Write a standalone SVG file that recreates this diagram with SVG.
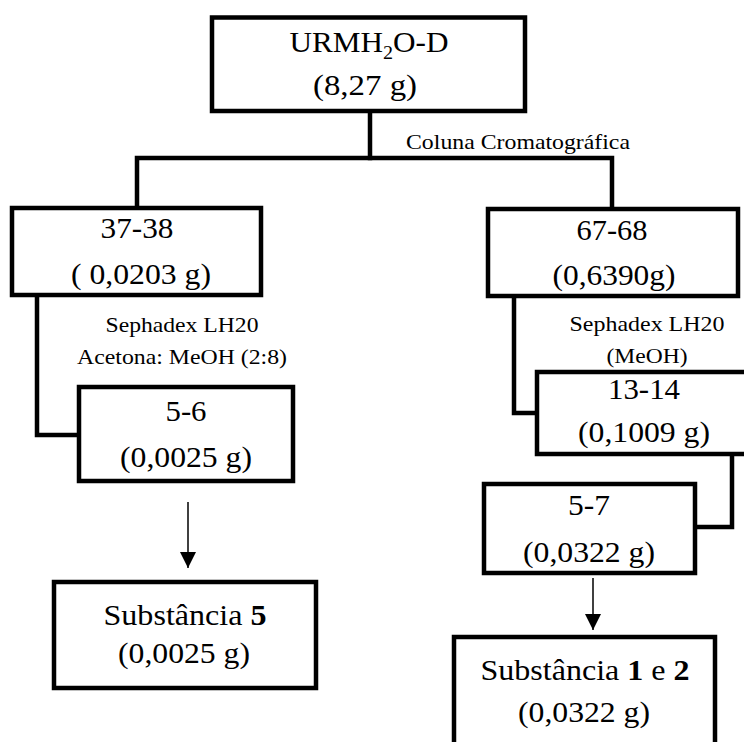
<svg xmlns="http://www.w3.org/2000/svg" width="744" height="742" viewBox="0 0 744 742">
<defs>
<style>
.box{fill:#fff;stroke:#000;stroke-width:4.5;stroke-linejoin:miter}
.con{fill:none;stroke:#000;stroke-width:4.5;stroke-linejoin:miter;stroke-linecap:square}
.arr{fill:none;stroke:#000;stroke-width:1.5}
.big{font-family:'Liberation Serif','Times New Roman',serif;font-size:29.5px;fill:#000;text-anchor:middle}
.sm{font-family:'Liberation Serif','Times New Roman',serif;font-size:21px;fill:#000;text-anchor:middle}
</style>
<marker id="ah" markerWidth="16" markerHeight="16" viewBox="0 0 16 16" refX="16" refY="8" orient="auto" markerUnits="userSpaceOnUse">
<path d="M0,0 L16,8 L0,16 Z" fill="#000"/>
</marker>
</defs>
<rect width="744" height="742" fill="#fff"/>
<g id="connectors">
<polyline class="con" points="370,111 370,158"/>
<polyline class="con" points="137,208 137,158 612,158 612,209"/>
<polyline class="con" points="37,295 37,435 79,435"/>
<polyline class="con" points="514,296 514,413 537,413"/>
<polyline class="con" points="732,454 732,527 695,527"/>
<line class="arr" x1="188" y1="502" x2="188" y2="568" marker-end="url(#ah)"/>
<line class="arr" x1="593" y1="578" x2="593" y2="630" marker-end="url(#ah)"/>
<text x="518" y="149" class="sm" textLength="224" lengthAdjust="spacingAndGlyphs">Coluna Cromatográfica</text>
<text x="182" y="332" class="sm" textLength="153" lengthAdjust="spacingAndGlyphs">Sephadex LH20</text>
<text x="182" y="364" class="sm" textLength="210" lengthAdjust="spacingAndGlyphs">Acetona: MeOH (2:8)</text>
<text x="647" y="331" class="sm" textLength="155" lengthAdjust="spacingAndGlyphs">Sephadex LH20</text>
<text x="647" y="363" class="sm" textLength="81" lengthAdjust="spacingAndGlyphs">(MeOH)</text>
</g>
<g id="node-urmh">
<rect class="box" x="212" y="17.5" width="313" height="93.5"/>
<text x="369" y="52" class="big" textLength="159" lengthAdjust="spacingAndGlyphs">URMH<tspan font-size="19" dy="7">2</tspan><tspan dy="-7">O-D</tspan></text>
<text x="365" y="95" class="big" textLength="104" lengthAdjust="spacingAndGlyphs">(8,27 g)</text>
</g>
<g id="node-37-38">
<rect class="box" x="12" y="208" width="249" height="87"/>
<text x="137" y="238" class="big" textLength="73" lengthAdjust="spacingAndGlyphs">37-38</text>
<text x="141" y="284" class="big" textLength="140" lengthAdjust="spacingAndGlyphs">( 0,0203 g)</text>
</g>
<g id="node-5-6">
<rect class="box" x="79" y="387" width="214" height="94"/>
<text x="186" y="421" class="big" textLength="41" lengthAdjust="spacingAndGlyphs">5-6</text>
<text x="186" y="467" class="big" textLength="132" lengthAdjust="spacingAndGlyphs">(0,0025 g)</text>
</g>
<g id="node-subst-5">
<rect class="box" x="54" y="582" width="262" height="106"/>
<text x="185" y="625" class="big" textLength="163" lengthAdjust="spacingAndGlyphs">Substância <tspan font-weight="bold">5</tspan></text>
<text x="184" y="663" class="big" textLength="132" lengthAdjust="spacingAndGlyphs">(0,0025 g)</text>
</g>
<g id="node-67-68">
<rect class="box" x="488" y="209" width="250" height="87"/>
<text x="612" y="240" class="big" textLength="71" lengthAdjust="spacingAndGlyphs">67-68</text>
<text x="614" y="285" class="big" textLength="123" lengthAdjust="spacingAndGlyphs">(0,6390g)</text>
</g>
<g id="node-13-14">
<rect class="box" x="537" y="372" width="223" height="82"/>
<text x="644" y="399" class="big" textLength="72" lengthAdjust="spacingAndGlyphs">13-14</text>
<text x="644" y="442" class="big" textLength="132" lengthAdjust="spacingAndGlyphs">(0,1009 g)</text>
</g>
<g id="node-5-7">
<rect class="box" x="484" y="484" width="211" height="89"/>
<text x="589" y="515" class="big" textLength="42" lengthAdjust="spacingAndGlyphs">5-7</text>
<text x="589" y="562" class="big" textLength="132" lengthAdjust="spacingAndGlyphs">(0,0322 g)</text>
</g>
<g id="node-subst-1-2">
<rect class="box" x="454" y="637" width="261" height="130"/>
<text x="585" y="680" class="big" textLength="209" lengthAdjust="spacingAndGlyphs">Substância <tspan font-weight="bold">1</tspan> e <tspan font-weight="bold">2</tspan></text>
<text x="584" y="722" class="big" textLength="132" lengthAdjust="spacingAndGlyphs">(0,0322 g)</text>
</g>
</svg>
